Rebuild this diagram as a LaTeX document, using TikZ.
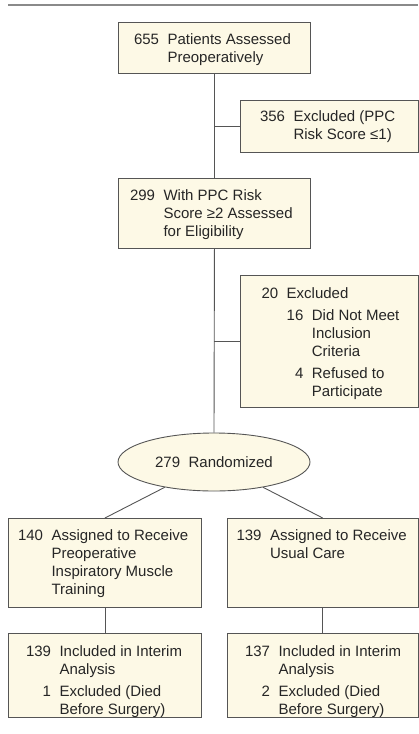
\documentclass[tikz,border=0pt]{standalone}
\usepackage{fontspec}
\setmainfont{Liberation Sans}
\usetikzlibrary{shapes.geometric,backgrounds}
\definecolor{boxfill}{HTML}{FDF9E6}
\definecolor{boxline}{HTML}{555555}
\definecolor{rulegray}{HTML}{8A8A8A}
\tikzset{
  box/.style={draw=boxline, fill=boxfill, line width=0.9pt, rectangle, anchor=north west, inner sep=0pt},
  oval/.style={draw=boxline, fill=boxfill, line width=0.9pt, ellipse, inner sep=0pt},
  txt/.style={anchor=base west, inner sep=0pt, outer sep=0pt, text=black!85, font=\fontsize{15}{18.3}\selectfont},
  conn/.style={draw=boxline, line width=0.9pt},
}
\newcommand{\numgap}{\hspace{8.5pt}}
\begin{document}
\begin{tikzpicture}[x=1pt,y=-1pt]
\useasboundingbox (0,0) rectangle (418,734);
\draw[rulegray, line width=1.5pt] (8,5) -- (418,5);

% boxes
\node[box, minimum width=192pt, minimum height=51pt] (b1) at (118,22) {};
\node[box, minimum width=177.5pt, minimum height=52pt] (b2) at (240,100) {};
\node[box, minimum width=192pt, minimum height=70pt] (b3) at (118,178) {};
\node[box, minimum width=177.5pt, minimum height=132pt] (b4) at (240,275) {};
\node[oval, minimum width=192pt, minimum height=58pt] (ell) at (214,462) {};
\node[box, minimum width=193pt, minimum height=89pt] (b5) at (8,518) {};
\node[box, minimum width=190.5pt, minimum height=89pt] (b6) at (227,518) {};
\node[box, minimum width=193pt, minimum height=84pt] (b7) at (8,633) {};
\node[box, minimum width=190.5pt, minimum height=84pt] (b8) at (227,633) {};

% connectors
\begin{scope}[on background layer]
\draw[conn] (b1.south) -- (b3.north);
\draw[conn] (b3.south) -- (ell.north);
\draw[conn] (b1.south |- b2.west) -- (b2.west);
\draw[conn] (b3.south |- b4.west) -- (b4.west);
\draw[conn] (ell) -- (b5.north);
\draw[conn] (ell) -- (b6.north);
\draw[conn] (b5.south) -- (b7.north);
\draw[conn] (b6.south) -- (b8.north);
\end{scope}

% texts
\node[txt] (t1) at (134,44.5) {\begin{tabular}[t]{@{}r@{\numgap}l@{}}655 & Patients Assessed\\ & Preoperatively\end{tabular}};
\node[txt] (t2) at (260,121.5) {\begin{tabular}[t]{@{}r@{\numgap}l@{}}356 & Excluded (PPC\\ & Risk Score ≤1)\end{tabular}};
\node[txt] (t3) at (130,200) {\begin{tabular}[t]{@{}r@{\numgap}l@{}}299 & With PPC Risk\\ & Score ≥2 Assessed\\ & for Eligibility\end{tabular}};
\node[txt] (t4) at (261.5,298.5) {\begin{tabular}[t]{@{}r@{\numgap}r@{\numgap}l@{}}20 & \multicolumn{2}{@{}l@{}}{Excluded}\\[3.3pt]
 & 16 & Did Not Meet\\ & & Inclusion\\ & & Criteria\\[3.5pt]
 & 4 & Refused to\\ & & Participate\end{tabular}};
\node[txt, anchor=base] (t5) at (214,467.3) {279\numgap Randomized};
\node[txt] (t6) at (18,540) {\begin{tabular}[t]{@{}r@{\numgap}l@{}}140 & Assigned to Receive\\ & Preoperative\\ & Inspiratory Muscle\\ & Training\end{tabular}};
\node[txt] (t7) at (236.5,540) {\begin{tabular}[t]{@{}r@{\numgap}l@{}}139 & Assigned to Receive\\ & Usual Care\end{tabular}};
\node[txt] (t8) at (26,656) {\begin{tabular}[t]{@{}r@{\numgap}l@{}}139 & Included in Interim\\ & Analysis\\[3.4pt] 1 & Excluded (Died\\ & Before Surgery)\end{tabular}};
\node[txt] (t9) at (245,656) {\begin{tabular}[t]{@{}r@{\numgap}l@{}}137 & Included in Interim\\ & Analysis\\[3.4pt] 2 & Excluded (Died\\ & Before Surgery)\end{tabular}};
\end{tikzpicture}
\end{document}
